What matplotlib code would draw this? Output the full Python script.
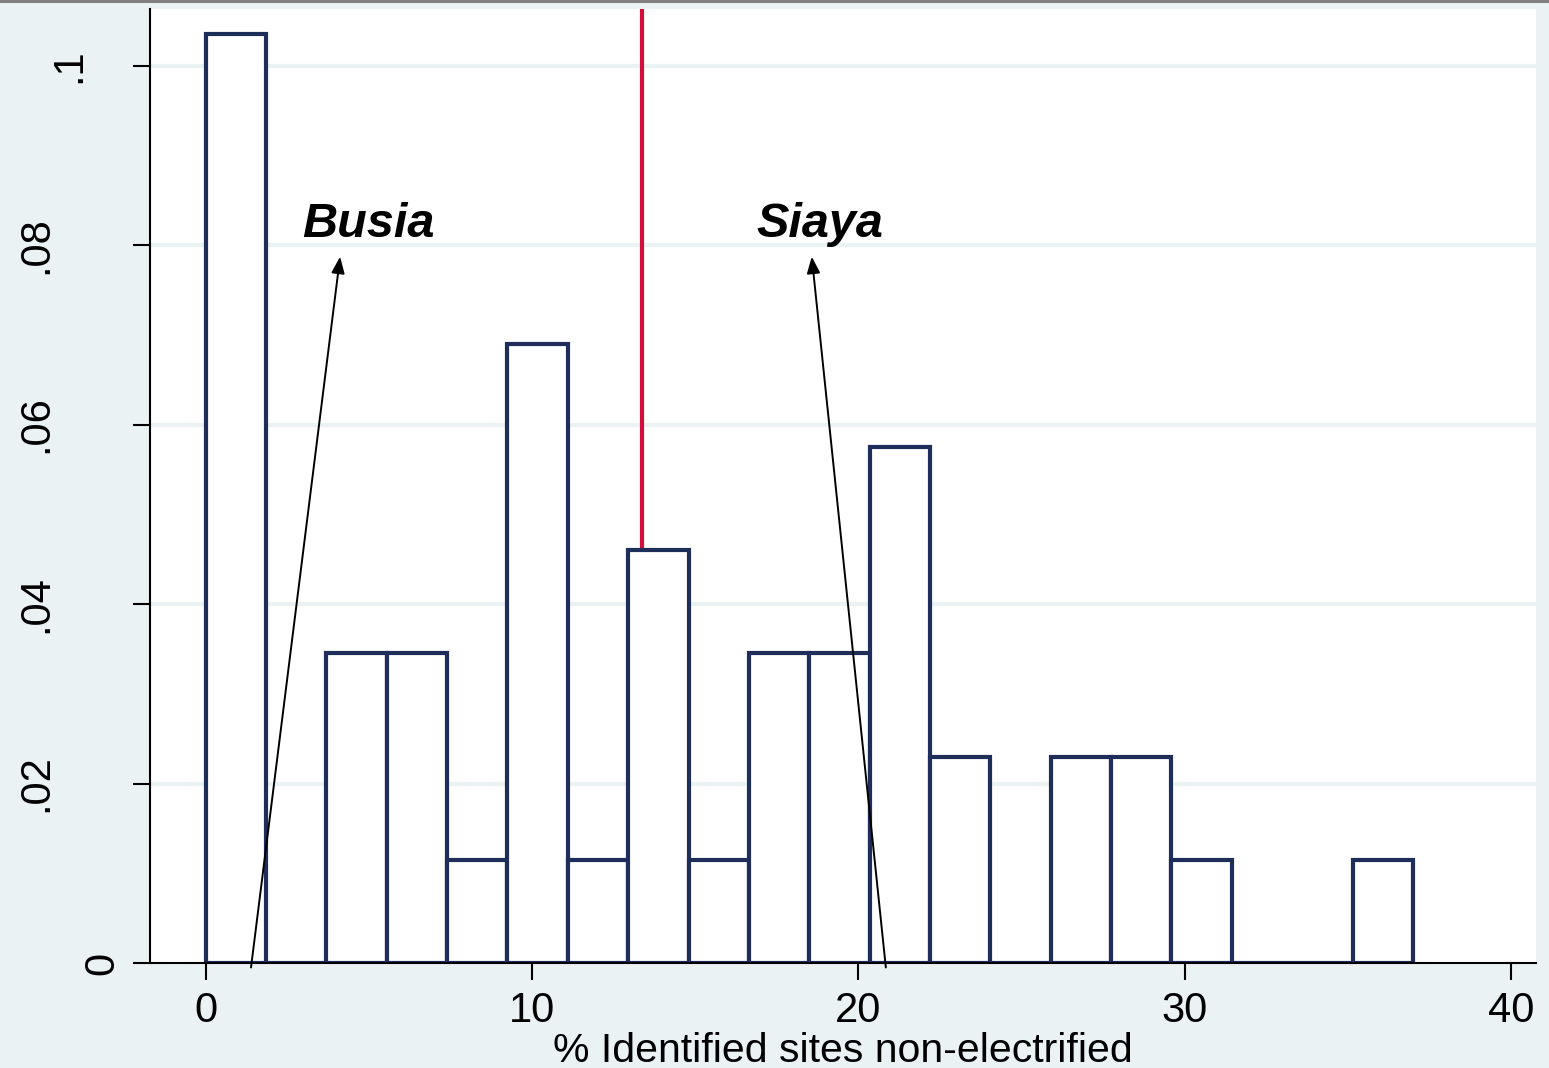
import numpy as np
import matplotlib
matplotlib.use("Agg")
import matplotlib.pyplot as plt
import matplotlib.transforms as mtransforms
from matplotlib.patches import Rectangle

plt.rcParams['font.family'] = ['Liberation Sans', 'DejaVu Sans']

# histogram: 20 bins from 0 to ~37, counts (N = 47)
bin_start = 0.0
bin_end = 36.99
counts = [9, 0, 3, 3, 1, 6, 1, 4, 1, 3, 3, 5, 2, 0, 2, 2, 1, 0, 0, 1]
mean_line = 13.37

# annotations: label, label position, arrow start, arrow tip
labels = ["Busia", "Siaya"]
label_x = [4.98, 18.83]
label_y = [0.0809, 0.0809]
arrow_from_x = [1.39, 20.84]
arrow_tip_x = [4.12, 18.57]
arrow_tip_y = [0.0787, 0.0787]

yticks = [0, 0.02, 0.04, 0.06, 0.08, 0.1]
ytick_labels = ["0", ".02", ".04", ".06", ".08", ".1"]
xticks = [0, 10, 20, 30, 40]

bg = "#EAF2F3"
navy = "#1E2D5A"
red = "#D0103A"

W, H = 1549, 1068
fig = plt.figure(figsize=(W / 100, H / 100), dpi=100, facecolor=bg)
ax_h = 963 - 9
ax = fig.add_axes([150 / W, (H - 963) / H, (1536 - 150) / W, ax_h / H])
ax.set_facecolor("white")

nb = len(counts)
edges = np.linspace(bin_start, bin_end, nb + 1)
width = edges[1] - edges[0]
density = np.array(counts) / (sum(counts) * width)

# grid behind everything
for yv in yticks[1:]:
    ax.axhline(yv, color=bg, lw=3, zorder=0)

ax.axvline(mean_line, color=red, lw=3, zorder=1)

ax.bar(edges[:-1], density, width=width, align="edge", facecolor="white",
       edgecolor=navy, linewidth=3, zorder=2)

for lab, lx, ly, fx, tx, ty in zip(labels, label_x, label_y, arrow_from_x, arrow_tip_x, arrow_tip_y):
    ax.annotate("", xy=(tx, ty), xytext=(fx, -0.0005),
                arrowprops=dict(arrowstyle="-|>,head_length=1.0,head_width=0.4",
                                color="black", lw=1.4, shrinkA=0, shrinkB=0),
                zorder=4, annotation_clip=False)
    ax.text(lx, ly, lab, ha="center", va="baseline", fontsize=35,
            fontweight="bold", fontstyle="italic", zorder=5)

ax.set_xlim(-1.705, 40.76)
ax.set_ylim(0, 0.1063)

for s in ["top", "right"]:
    ax.spines[s].set_visible(False)
for s in ["left", "bottom"]:
    ax.spines[s].set_linewidth(1.5)
    ax.spines[s].set_zorder(3)

ax.set_xticks(xticks)
ax.set_xticklabels([str(v) for v in xticks], fontsize=30)
ax.set_yticks(yticks)
ax.set_yticklabels([])
ax.tick_params(axis="both", length=12, width=1.5, color="black")
ax.tick_params(axis="x", pad=8)

# rotated y tick labels, placed Stata-style (longer labels sit further left)
tr = mtransforms.blended_transform_factory(fig.transFigure, ax.transData)
for yv, lab in zip(yticks, ytick_labels):
    xc = 135 - 33 * len(lab)
    ax.text(xc / W, yv, lab, transform=tr, rotation=90, ha="center",
            va="center", fontsize=30, clip_on=False)

ax.set_xlabel("% Identified sites non-electrified", fontsize=29.5, va="baseline")
ax.xaxis.set_label_coords(0.5, -(1062 - 963) / ax_h)

# thin grey strip at the very top of the screenshot
fig.patches.append(Rectangle((0, (H - 3) / H), 1, 3 / H, transform=fig.transFigure,
                             facecolor="#808080", edgecolor="none"))

fig.savefig("out.png", dpi=100, facecolor=bg)
